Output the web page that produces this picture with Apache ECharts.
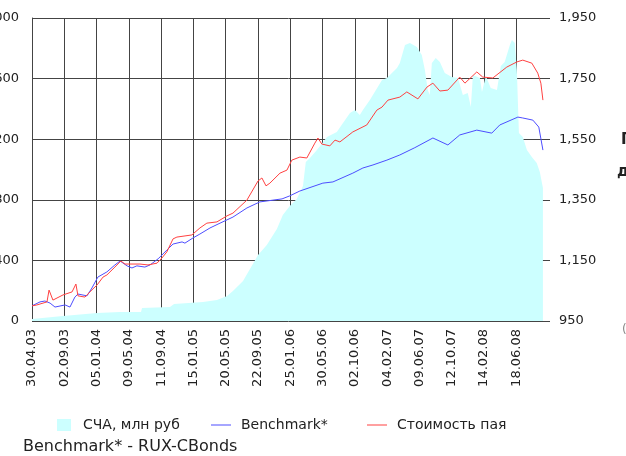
<!DOCTYPE html>
<html>
<head>
<meta charset="utf-8">
<script src="https://cdn.jsdelivr.net/npm/echarts@6/dist/echarts.min.js"></script>
<style>
    html, body {margin: 0; padding: 0; background: #ffffff;}
    #MyChart {width: 626px; height: 456px;}
</style>
</head>
<body>
<div id="MyChart"></div>
<script>
// подписи оси X (каждые 125 точек)
var tickLabels = ['30.04.03', '02.09.03', '05.01.04', '09.05.04', '11.09.04', '15.01.05', '20.05.05', '22.09.05',
    '25.01.06', '30.05.06', '02.10.06', '04.02.07', '09.06.07', '12.10.07', '14.02.08', '18.06.08']

// СЧА, млн руб  (номер точки, значение)
var navDays = [0, 120, 252, 341, 422, 426, 534, 550, 662, 716, 755, 778, 817, 855, 875, 909, 948, 971, 998, 1025,
    1049, 1060, 1076, 1103, 1142, 1180, 1204, 1231, 1250, 1269, 1281, 1308, 1355, 1374, 1413, 1424, 1444, 1463, 1490, 1509,
    1521, 1532, 1540, 1548, 1563, 1579, 1598, 1625, 1649, 1668, 1687, 1699, 1707, 1734, 1742, 1757, 1776, 1800, 1815, 1830,
    1850, 1858, 1869, 1877, 1885, 1900, 1916, 1935, 1954, 1966, 1978]
var navValues = [13, 33, 53, 59, 59, 86, 92, 112, 125, 139, 165, 198, 264, 376, 436, 502, 607, 700, 759, 805,
    891, 1049, 1076, 1129, 1214, 1247, 1307, 1373, 1393, 1360, 1393, 1459, 1591, 1604, 1670, 1703, 1822, 1835, 1808, 1756,
    1657, 1525, 1492, 1703, 1736, 1709, 1637, 1610, 1604, 1492, 1505, 1412, 1624, 1604, 1511, 1617, 1538, 1525, 1683, 1709,
    1822, 1855, 1835, 1657, 1241, 1214, 1129, 1082, 1043, 983, 878]

// Benchmark*
var benchDays = [0, 31, 50, 70, 89, 128, 147, 166, 178, 213, 232, 255, 290, 321, 341, 368, 387, 406, 437, 457,
    488, 522, 546, 581, 592, 623, 650, 689, 728, 778, 832, 882, 968, 998, 1037, 1126, 1165, 1242, 1281, 1320,
    1374, 1424, 1482, 1552, 1610, 1656, 1722, 1780, 1811, 1881, 1900, 1939, 1962, 1978]
var benchValues = [1000, 1013, 1016, 1009, 996, 1003, 996, 1029, 1039, 1033, 1059, 1095, 1112, 1135, 1148, 1132, 1125, 1132, 1128, 1135,
    1155, 1184, 1204, 1211, 1207, 1224, 1237, 1257, 1273, 1293, 1323, 1343, 1353, 1363, 1379, 1405, 1409, 1438, 1455, 1465,
    1481, 1498, 1522, 1554, 1531, 1564, 1580, 1570, 1597, 1623, 1620, 1613, 1590, 1514]

// Стоимость пая
var unitDays = [0, 19, 58, 66, 81, 120, 155, 170, 178, 205, 224, 252, 275, 290, 321, 344, 360, 418, 449, 484,
    503, 522, 546, 561, 619, 650, 677, 716, 755, 778, 832, 875, 890, 906, 921, 960, 987, 1006, 1037, 1064,
    1095, 1107, 1122, 1153, 1173, 1192, 1242, 1296, 1335, 1355, 1378, 1424, 1451, 1494, 1529, 1552, 1579, 1610, 1656, 1676,
    1722, 1745, 1784, 1838, 1877, 1900, 1935, 1958, 1970, 1978]
var unitValues = [1000, 1003, 1013, 1052, 1019, 1036, 1046, 1072, 1033, 1029, 1046, 1069, 1095, 1102, 1128, 1148, 1138, 1138, 1135, 1141,
    1158, 1178, 1221, 1227, 1234, 1257, 1273, 1277, 1297, 1306, 1349, 1412, 1422, 1396, 1405, 1438, 1448, 1481, 1491, 1488,
    1537, 1554, 1534, 1528, 1547, 1541, 1574, 1597, 1646, 1656, 1679, 1689, 1706, 1683, 1722, 1735, 1709, 1712, 1755, 1735,
    1772, 1755, 1752, 1788, 1805, 1811, 1801, 1768, 1735, 1679]

function pairs(days, values) {
    let out = []
    for (let i = 0; i < days.length; i++) {
        out.push([days[i], values[i]])
    }
    return out
}

var chartDom = document.getElementById('MyChart');
var myChart = echarts.init(chartDom, null, {renderer: 'canvas'});
var option;

option = {
    animation: false,
    textStyle: {fontFamily: 'DejaVu Sans', color: '#222222'},
    grid: {left: 32, right: 81, top: 18, bottom: 135, containLabel: false, outerBoundsMode: 'none'},
    legend: [
        {
            data: ['СЧА, млн руб'], left: 57, top: 418, padding: 0,
            icon: 'rect', itemWidth: 14, itemHeight: 12,
            textStyle: {fontSize: 14, color: '#222222', padding: [0, 0, 0, 7]}
        },
        {
            data: ['Benchmark*'], left: 211, top: 418, padding: 0,
            icon: 'rect', itemWidth: 20, itemHeight: 1,
            textStyle: {fontSize: 14, color: '#222222', padding: [0, 0, 0, 5]}
        },
        {
            data: ['Стоимость пая'], left: 367, top: 418, padding: 0,
            icon: 'rect', itemWidth: 20, itemHeight: 1,
            textStyle: {fontSize: 14, color: '#222222', padding: [0, 0, 0, 5]}
        }
    ],
    graphic: [
        {type: 'text', left: 23, top: 439, style: {text: 'Benchmark* - RUX-CBonds', fontSize: 16, fontFamily: 'DejaVu Sans', fill: '#222222'}},
        // обрезанный текст справа
        {type: 'text', left: 621, top: 133, style: {text: 'П', fontSize: 15, fontWeight: 'bold', fontFamily: 'DejaVu Sans', fill: '#222222'}},
        {type: 'text', left: 617, top: 165, style: {text: 'д', fontSize: 15, fontWeight: 'bold', fontFamily: 'DejaVu Sans', fill: '#222222'}},
        {type: 'text', left: 622, top: 324, style: {text: '(', fontSize: 12, fontFamily: 'DejaVu Sans', fill: '#888888'}}
    ],
    xAxis: {
        type: 'value',
        min: 0,
        max: 1986,
        interval: 125,
        axisLine: {show: false},
        axisTick: {show: false},
        splitLine: {show: true, showMaxLine: false, lineStyle: {color: '#444444', width: 1}},
        axisLabel: {
            rotate: 90,
            margin: 8,
            fontSize: 13,
            color: '#222222',
            showMaxLabel: false,
            formatter: function (v) {
                return tickLabels[Math.round(v / 125)] || ''
            }
        }
    },
    yAxis: [
        {
            type: 'value',
            min: 0,
            max: 2000,
            interval: 400,
            axisLine: {show: true, lineStyle: {color: '#444444', width: 1}},
            axisTick: {show: false},
            splitLine: {show: true, lineStyle: {color: '#444444', width: 1}},
            axisLabel: {
                fontSize: 13, color: '#222222', margin: 13,
                formatter: function (v) {
                    return String(v)
                }
            }
        },
        {
            type: 'value',
            position: 'right',
            min: 950,
            max: 1950,
            interval: 200,
            axisLine: {show: false},
            axisTick: {show: true, length: 5, lineStyle: {color: '#444444'}},
            splitLine: {show: false},
            axisLabel: {
                fontSize: 13, color: '#222222', margin: 14,
                formatter: function (v) {
                    return String(v).replace(/\B(?=(\d{3})+(?!\d))/g, ',')
                }
            }
        }
    ],
    series: [
        {
            name: 'СЧА, млн руб',
            type: 'line',
            yAxisIndex: 0,
            symbol: 'none',
            data: pairs(navDays, navValues),
            itemStyle: {color: '#ccffff'},
            lineStyle: {width: 0, color: '#ccffff'},
            areaStyle: {color: '#ccffff', opacity: 1}
        },
        {
            name: 'Benchmark*',
            type: 'line',
            yAxisIndex: 1,
            symbol: 'none',
            data: pairs(benchDays, benchValues),
            itemStyle: {color: '#4d4dff'},
            lineStyle: {width: 1, color: '#4d4dff'}
        },
        {
            name: 'Стоимость пая',
            type: 'line',
            yAxisIndex: 1,
            symbol: 'none',
            data: pairs(unitDays, unitValues),
            itemStyle: {color: '#ff4040'},
            lineStyle: {width: 1, color: '#ff4040'}
        }
    ]
};

option && myChart.setOption(option);
</script>
</body>
</html>
